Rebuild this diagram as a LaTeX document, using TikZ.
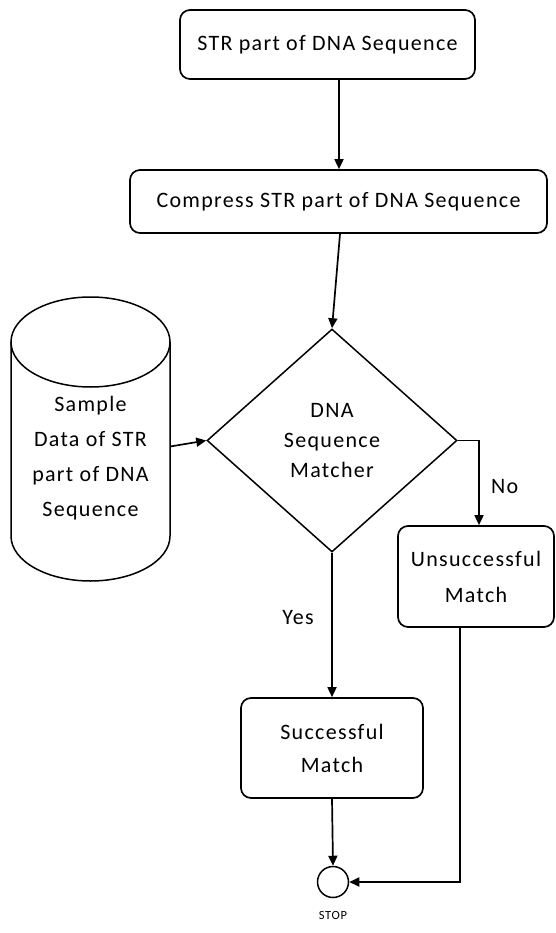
\documentclass[tikz,border=0pt]{standalone}
\usepackage{fontspec}
\setmainfont{Carlito}[LetterSpace=6]
\usetikzlibrary{positioning,shapes.geometric,arrows.meta}
\tikzset{
  block/.style={draw, rounded corners=10pt, line width=1.7pt, align=center, inner sep=0pt},
  line/.style={draw, line width=1.7pt, -{Triangle[length=10pt,width=9pt]}},
  txt/.style={font=\fontsize{22}{#1}\selectfont},
  txt/.default=26
}

\begin{document}
\begin{tikzpicture}[x=1pt, y=-1pt]
  \useasboundingbox (0,0) rectangle (555,933);

  \node[block, txt, minimum width=295pt, minimum height=69pt] (str) at (327.5,44.5) {STR part of DNA Sequence};
  \node[block, txt, minimum width=417pt, minimum height=63pt] (compress) at (338.5,201.5) {Compress STR part of DNA Sequence};
  \node[diamond, draw, line width=1.5pt, inner sep=0pt, align=center, txt=30,
        minimum width=250pt, minimum height=223pt] (matcher) at (332,440.5) {DNA\\Sequence\\Matcher};

  % database cylinder
  \node[minimum width=159pt, minimum height=285pt] (sample) at (90.5,438.5) {};
  \node[align=center, txt=35] (sampletxt) at ([yshift=-20pt]sample.center) {Sample\\Data of STR\\part of DNA\\Sequence};
  \draw[line width=1.5pt] (90.5,342) ellipse [x radius=79.5pt, y radius=45pt];
  \draw[line width=1.5pt] (11,342) -- (11,536) arc[start angle=180, end angle=360, x radius=79.5pt, y radius=45pt] -- (170,342);

  \node[block, txt=36, minimum width=156pt, minimum height=101pt] (unsucc) at (476,576.5) {Unsuccessful\\Match};
  \node[block, txt=33, minimum width=182pt, minimum height=100pt] (succ) at (332,748) {Successful\\Match};
  \node[circle, draw, line width=1.5pt, minimum size=31pt, inner sep=0pt] (stop) at (333,882) {};
  \node[font=\fontsize{12.5}{14}\selectfont, below=10pt of stop] (stoplbl) {STOP};

  \draw[line] ([xshift=11.5pt]str.south) -- ([xshift=0.5pt]compress.north);
  \draw[line] ([xshift=1.5pt]compress.south) -- (matcher.north);
  \draw[line] ([yshift=-8pt]sample.east) -- (matcher.west);
  \draw[line] (matcher.east) -| node[pos=0.77, right=8pt, txt] (no) {No} ([xshift=3pt]unsucc.north);
  \draw[line] (matcher.south) -- node[pos=0.45, left=14pt, txt] (yes) {Yes} (succ.north);
  \draw[line] (succ.south) -- (stop.north);
  \draw[line] ([xshift=-16pt]unsucc.south) |- (stop.east);
\end{tikzpicture}
\end{document}
